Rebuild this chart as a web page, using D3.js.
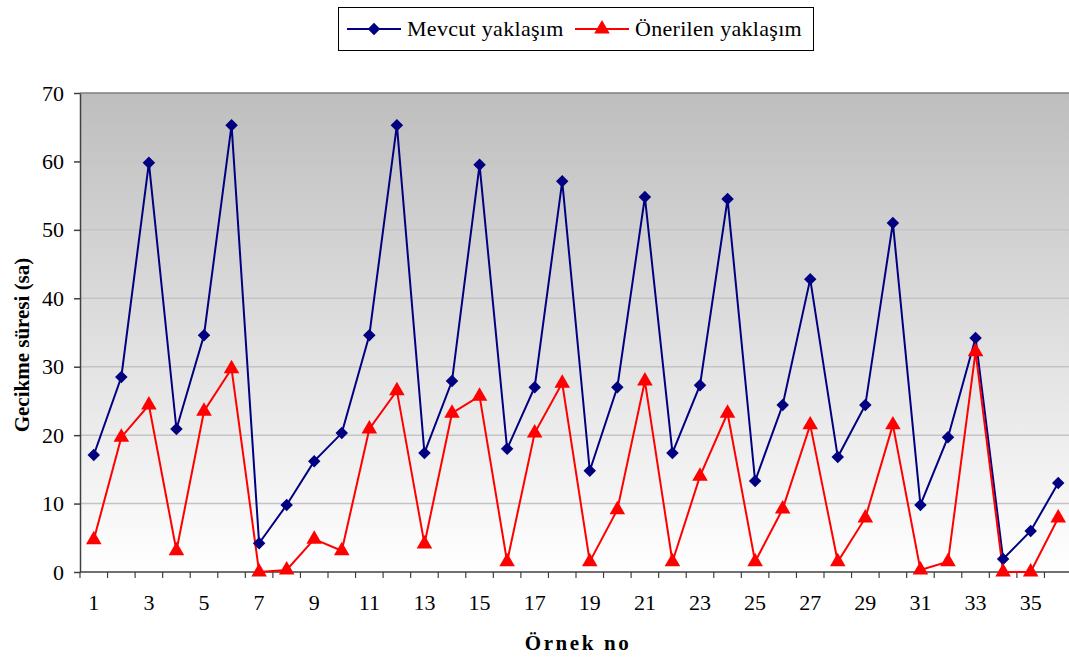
<!DOCTYPE html>
<html>
<head>
<meta charset="utf-8">
<script src="https://cdn.jsdelivr.net/npm/d3@7"></script>
<style>
  html, body { margin: 0; padding: 0; background: #fff; overflow: hidden; }
  svg { display: block; }
  svg text { font-family: "Liberation Serif", "Times New Roman", serif; }
</style>
</head>
<body>
<svg id="chart" width="1069" height="657"></svg>
<script>
// Sample numbers 1..36
const samples = d3.range(1, 37);
// Delay (hours) under the current approach
const mevcut = [17.1, 28.5, 59.8, 20.9, 34.6, 65.3, 4.2, 9.8, 16.2, 20.3,
                34.6, 65.3, 17.4, 27.9, 59.5, 18.0, 27.0, 57.1, 14.8, 27.0,
                54.8, 17.4, 27.3, 54.5, 13.3, 24.4, 42.8, 16.8, 24.4, 51.0,
                9.8, 19.7, 34.2, 1.9, 6.0, 13.0];
// Delay (hours) under the proposed approach
const onerilen = [4.7, 19.7, 24.4, 3.1, 23.5, 29.7, 0.0, 0.3, 4.8, 3.1,
                  20.9, 26.5, 4.1, 23.2, 25.7, 1.5, 20.3, 27.6, 1.5, 9.1,
                  27.9, 1.5, 14.0, 23.2, 1.5, 9.2, 21.5, 1.5, 7.9, 21.5,
                  0.3, 1.5, 32.2, 0.0, 0.0, 7.9];
const yTicks = [0, 10, 20, 30, 40, 50, 60, 70];
const xTickLabels = samples.filter(d => d % 2 === 1);

const FONT = "'Liberation Serif', 'Times New Roman', serif";
const svg = d3.select("#chart");
// The plot area runs slightly past the right edge of the canvas
const plot = { left: 80, right: 1072, top: 93, bottom: 572 };

const x = d3.scaleBand().domain(samples).range([plot.left, plot.right]).padding(0);
const y = d3.scaleLinear().domain([0, 70]).range([plot.bottom, plot.top]);

// Gray-to-white vertical gradient behind the plot
const defs = svg.append("defs");
const grad = defs.append("linearGradient").attr("id", "bg").attr("x1", 0).attr("y1", 0).attr("x2", 0).attr("y2", 1);
grad.append("stop").attr("offset", "0%").attr("stop-color", "#bebebe");
grad.append("stop").attr("offset", "100%").attr("stop-color", "#ffffff");

svg.append("rect")
  .attr("x", plot.left).attr("y", plot.top)
  .attr("width", plot.right - plot.left).attr("height", plot.bottom - plot.top)
  .attr("fill", "url(#bg)");

// Horizontal gridlines
svg.append("g").selectAll("line").data(yTicks.filter(d => d > 0 && d < 70)).join("line")
  .attr("x1", plot.left).attr("x2", plot.right)
  .attr("y1", d => y(d)).attr("y2", d => y(d))
  .attr("stroke", "#c4c4c4").attr("stroke-width", 1.5);

// Plot frame (top and right)
svg.append("path")
  .attr("d", `M${plot.left},${plot.top}H${plot.right}V${plot.bottom}`)
  .attr("fill", "none").attr("stroke", "#808080").attr("stroke-width", 1.5);

// Y axis
const yAxis = svg.append("g")
  .attr("transform", `translate(${plot.left},0)`)
  .call(d3.axisLeft(y).tickValues(yTicks).tickSize(6).tickSizeOuter(0).tickPadding(10));
yAxis.attr("font-family", FONT);
yAxis.select(".domain").attr("stroke", "#404040").attr("stroke-width", 1.5);
yAxis.selectAll(".tick line").attr("stroke", "#404040").attr("stroke-width", 1.5);
yAxis.selectAll("text").attr("font-size", 22).attr("fill", "#000").attr("font-family", FONT);

// X axis: tick marks sit between categories
const boundaries = d3.range(0, samples.length + 1).map(i => plot.left + i * x.bandwidth());
const xAxisG = svg.append("g").attr("font-family", FONT);
xAxisG.append("line")
  .attr("x1", plot.left).attr("x2", plot.right)
  .attr("y1", plot.bottom).attr("y2", plot.bottom)
  .attr("stroke", "#404040").attr("stroke-width", 1.5);
xAxisG.selectAll("line.tk").data(boundaries).join("line")
  .attr("class", "tk")
  .attr("x1", d => d).attr("x2", d => d)
  .attr("y1", plot.bottom).attr("y2", plot.bottom + 6)
  .attr("stroke", "#404040").attr("stroke-width", 1.2);
xAxisG.selectAll("text").data(xTickLabels).join("text")
  .attr("x", d => x(d) + x.bandwidth() / 2)
  .attr("y", 610)
  .attr("text-anchor", "middle")
  .attr("font-size", 22)
  .attr("font-family", FONT)
  .text(d => d);

// Axis titles
svg.append("text")
  .attr("transform", "translate(29,345) rotate(-90)")
  .attr("text-anchor", "middle")
  .attr("font-family", FONT)
  .attr("font-size", 21).attr("font-weight", "bold")
  .text("Gecikme süresi (sa)");
svg.append("text")
  .attr("x", 578).attr("y", 650)
  .attr("text-anchor", "middle")
  .attr("font-family", FONT)
  .attr("font-size", 21).attr("font-weight", "bold")
  .attr("letter-spacing", 2.6)
  .text("Örnek no");

const cx = d => x(d) + x.bandwidth() / 2;
const line = d3.line().x((d, i) => cx(samples[i])).y(d => y(d));

const blue = "#000080", red = "#ff0000";
const diamond = d3.symbol().type(d3.symbolSquare).size(78);
const triangle = d3.symbol().type(d3.symbolTriangle).size(105);

// Current approach series
svg.append("path").datum(mevcut)
  .attr("d", line).attr("fill", "none").attr("stroke", blue).attr("stroke-width", 2);
// Proposed approach series
svg.append("path").datum(onerilen)
  .attr("d", line).attr("fill", "none").attr("stroke", red).attr("stroke-width", 2);

svg.append("g").selectAll("path").data(mevcut).join("path")
  .attr("d", diamond)
  .attr("transform", (d, i) => `translate(${cx(samples[i])},${y(d)}) rotate(45)`)
  .attr("fill", blue);
svg.append("g").selectAll("path").data(onerilen).join("path")
  .attr("d", triangle)
  .attr("transform", (d, i) => `translate(${cx(samples[i])},${y(d)})`)
  .attr("fill", red);

// Legend
const lg = svg.append("g").attr("font-family", FONT);
lg.append("rect").attr("x", 338.5).attr("y", 7.5).attr("width", 475).attr("height", 43)
  .attr("fill", "#fff").attr("stroke", "#000").attr("stroke-width", 1);
lg.append("line").attr("x1", 347).attr("x2", 401).attr("y1", 29).attr("y2", 29)
  .attr("stroke", blue).attr("stroke-width", 2);
lg.append("path").attr("d", diamond).attr("transform", "translate(374,29) rotate(45)").attr("fill", blue);
lg.append("text").attr("x", 407).attr("y", 36).attr("font-size", 22).attr("letter-spacing", 0.3)
  .attr("font-family", FONT).text("Mevcut yaklaşım");
lg.append("line").attr("x1", 575).attr("x2", 629).attr("y1", 29).attr("y2", 29)
  .attr("stroke", red).attr("stroke-width", 2);
lg.append("path").attr("d", triangle).attr("transform", "translate(602,29)").attr("fill", red);
lg.append("text").attr("x", 635).attr("y", 36).attr("font-size", 22).attr("letter-spacing", 0.3)
  .attr("font-family", FONT).text("Önerilen yaklaşım");
</script>
</body>
</html>
